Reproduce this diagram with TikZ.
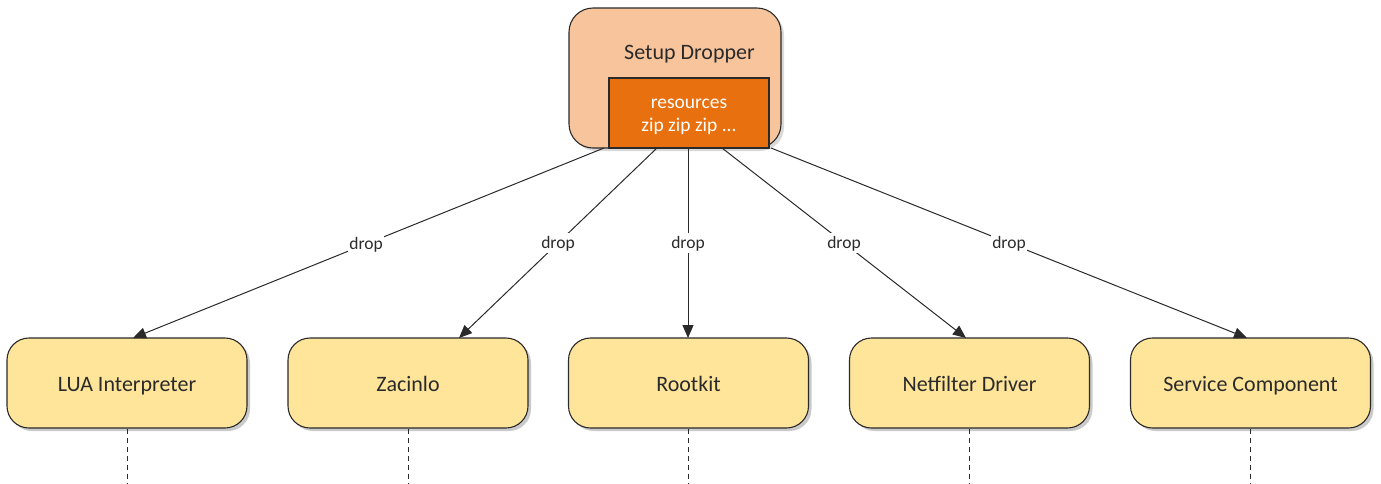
\documentclass[tikz,border=0pt]{standalone}
\usepackage{fontspec}
\setmainfont{Carlito}
\usetikzlibrary{arrows.meta,shadows}
\definecolor{topfill}{HTML}{F8C49C}
\definecolor{innerfill}{HTML}{E8700F}
\definecolor{compfill}{HTML}{FEE59A}
\definecolor{edgecol}{HTML}{2A2A2A}
\tikzset{
  topbox/.style={draw=edgecol, line width=1.1pt, fill=topfill, rounded corners=24pt, minimum width=212pt, minimum height=140pt, inner sep=0pt},
  innerbox/.style={draw=edgecol, line width=1.1pt, fill=innerfill, minimum width=160pt, minimum height=70pt, inner sep=0pt},
  innertext/.style={anchor=base, inner sep=0pt, text=white, font=\fontsize{19.5}{23}\selectfont},
  comp/.style={draw=edgecol, line width=1.1pt, fill=compfill, rounded corners=22pt, minimum width=240pt, minimum height=90pt, inner sep=0pt, text height=18pt, text depth=2pt, font=\fontsize{22}{24}\selectfont, text=edgecol, drop shadow={shadow xshift=3pt, shadow yshift=-3pt, opacity=0.35, fill=black!60}},
  droparrow/.style={draw=edgecol, line width=1pt, -{Triangle[length=13pt,width=11pt]}},
  droplabel/.style={fill=white, inner sep=1pt, text height=14.5pt, text depth=4pt, font=\fontsize{17.5}{19}\selectfont, text=edgecol},
  lifeline/.style={draw=edgecol, line width=1pt, dash pattern=on 5pt off 4pt}
}
\begin{document}
\begin{tikzpicture}[x=1pt,y=-1pt]
\useasboundingbox (0,0) rectangle (1381,483);
\node[topbox, drop shadow={shadow xshift=3pt, shadow yshift=-3pt, opacity=0.25, fill=black!60}] (setup) at (675,78) {};
\node[anchor=base, inner sep=0pt, font=\fontsize{22}{24}\selectfont, text=edgecol] (setuplbl) at (689.5,59.5) {Setup Dropper};
\node[innerbox] (res) at (689,113) {};
\node[innertext] (res1) at (689,108.5) {resources};
\node[innertext] (res2) at (689,131.8) {zip zip zip ...};
\node[comp] (lua) at (127,383) {LUA Interpreter};
\node[comp] (zac) at (408,383) {Zacinlo};
\node[comp] (root) at (688.5,383) {Rootkit};
\node[comp] (net) at (969.5,383) {Netfilter Driver};
\node[comp] (svc) at (1250.5,383) {Service Component};
\coordinate (s1) at (604,148);
\coordinate (s2) at (657,148);
\coordinate (s3) at (688,148);
\coordinate (s4) at (722,148);
\coordinate (s5) at (771,148);
\coordinate (e1) at (133,338);
\coordinate (e2) at (459,338);
\coordinate (e3) at (688,338);
\coordinate (e4) at (966,338);
\coordinate (e5) at (1247,338);
\draw[droparrow] (s1) -- node[droplabel, pos=0.505] {drop} (e1);
\draw[droparrow] (s2) -- node[droplabel, pos=0.5] {drop} (e2);
\draw[droparrow] (s3) -- node[droplabel, pos=0.5] {drop} (e3);
\draw[droparrow] (s4) -- node[droplabel, pos=0.5] {drop} (e4);
\draw[droparrow] (s5) -- node[droplabel, pos=0.5] {drop} (e5);
\foreach \n in {lua,zac,root,net,svc} {
  \coordinate (\n-end) at (\n.south |- 0,483);
  \draw[lifeline] (\n.south) -- (\n-end);
}
\end{tikzpicture}
\end{document}
